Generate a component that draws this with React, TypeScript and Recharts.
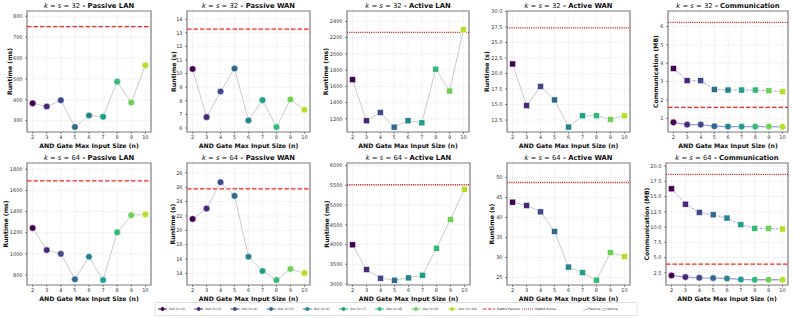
import React from "react";
import {
  LineChart,
  Line,
  XAxis,
  YAxis,
  CartesianGrid,
  ReferenceLine,
  ReferenceArea,
} from "recharts";

const gateSizes = [2, 3, 4, 5, 6, 7, 8, 9, 10];
const sizeColors = [
  "#440154",
  "#482878",
  "#3e4989",
  "#31688e",
  "#26828e",
  "#1f9e89",
  "#35b779",
  "#6ece58",
  "#b5de2b",
];

// k = s = 32
const passiveLan32 = [383, 368, 398, 270, 325, 319, 487, 387, 565];
const passiveWan32 = [10.34, 6.8, 8.68, 10.37, 6.56, 8.05, 6.07, 8.1, 7.34];
const activeLan32 = [1682, 1176, 1278, 1098, 1176, 1151, 1812, 1543, 2298];
const activeWan32 = [21.54, 14.84, 17.93, 15.75, 11.38, 13.19, 13.19, 12.6, 13.19];
const commPassive32 = [0.78, 0.66, 0.66, 0.57, 0.55, 0.55, 0.55, 0.55, 0.54];
const commActive32 = [3.71, 3.05, 3.05, 2.57, 2.54, 2.54, 2.54, 2.5, 2.45];
const rabbitPassiveLan32 = 750;
const rabbitPassiveWan32 = 13.27;
const rabbitActiveLan32 = 2265;
const rabbitActiveWan32 = 27.34;
const rabbitCommPassive32 = 1.6;
const rabbitCommActive32 = 6.22;

// k = s = 64
const passiveLan64 = [1244, 1035, 1000, 759, 972, 752, 1203, 1365, 1372];
const passiveWan64 = [21.58, 23.02, 26.7, 24.79, 16.33, 14.33, 13.07, 14.6, 14.05];
const activeLan64 = [3992, 3365, 3145, 3094, 3153, 3221, 3904, 4635, 5402];
const activeWan64 = [43.83, 43.0, 41.4, 36.5, 27.6, 26.2, 24.33, 31.2, 30.25];
const commPassive64 = [2.06, 1.79, 1.68, 1.63, 1.57, 1.41, 1.36, 1.36, 1.36];
const commActive64 = [16.26, 13.74, 12.39, 12.0, 11.47, 10.38, 9.78, 9.78, 9.67];
const rabbitPassiveLan64 = 1690;
const rabbitPassiveWan64 = 25.77;
const rabbitActiveLan64 = 5517;
const rabbitActiveWan64 = 48.75;
const rabbitCommPassive64 = 3.92;
const rabbitCommActive64 = 18.63;

// y tick labels
const ticksPassiveLan32 = [300, 400, 500, 600, 700, 800];
const ticksPassiveWan32 = [6, 7, 8, 9, 10, 11, 12, 13, 14];
const ticksActiveLan32 = [1200, 1400, 1600, 1800, 2000, 2200, 2400];
const ticksActiveWan32 = [12.5, 15, 17.5, 20, 22.5, 25, 27.5, 30];
const ticksComm32 = [1, 2, 3, 4, 5, 6];
const ticksPassiveLan64 = [800, 1000, 1200, 1400, 1600, 1800];
const ticksPassiveWan64 = [14, 16, 18, 20, 22, 24, 26, 28];
const ticksActiveLan64 = [3000, 3500, 4000, 4500, 5000, 5500, 6000];
const ticksActiveWan64 = [25, 30, 35, 40, 45, 50];
const ticksComm64 = [2.5, 5, 7.5, 10, 12.5, 15, 17.5, 20];

const FONT = "DejaVu Sans";
const Y_W = 28;
const X_H = 12;
const M_TOP = 3;
const M_RIGHT = 3;

type Panel = {
  k: number;
  name: string;
  yLabel: string;
  passive?: number[];
  active?: number[];
  rabbitPassive?: number;
  rabbitActive?: number;
  ticks: number[];
  digits: number;
};

const panels: Panel[] = [
  { k: 32, name: "Passive LAN", yLabel: "Runtime (ms)", passive: passiveLan32, rabbitPassive: rabbitPassiveLan32, ticks: ticksPassiveLan32, digits: 0 },
  { k: 32, name: "Passive WAN", yLabel: "Runtime (s)", passive: passiveWan32, rabbitPassive: rabbitPassiveWan32, ticks: ticksPassiveWan32, digits: 0 },
  { k: 32, name: "Active LAN", yLabel: "Runtime (ms)", active: activeLan32, rabbitActive: rabbitActiveLan32, ticks: ticksActiveLan32, digits: 0 },
  { k: 32, name: "Active WAN", yLabel: "Runtime (s)", active: activeWan32, rabbitActive: rabbitActiveWan32, ticks: ticksActiveWan32, digits: 1 },
  { k: 32, name: "Communication", yLabel: "Communication (MB)", passive: commPassive32, active: commActive32, rabbitPassive: rabbitCommPassive32, rabbitActive: rabbitCommActive32, ticks: ticksComm32, digits: 0 },
  { k: 64, name: "Passive LAN", yLabel: "Runtime (ms)", passive: passiveLan64, rabbitPassive: rabbitPassiveLan64, ticks: ticksPassiveLan64, digits: 0 },
  { k: 64, name: "Passive WAN", yLabel: "Runtime (s)", passive: passiveWan64, rabbitPassive: rabbitPassiveWan64, ticks: ticksPassiveWan64, digits: 0 },
  { k: 64, name: "Active LAN", yLabel: "Runtime (ms)", active: activeLan64, rabbitActive: rabbitActiveLan64, ticks: ticksActiveLan64, digits: 0 },
  { k: 64, name: "Active WAN", yLabel: "Runtime (s)", active: activeWan64, rabbitActive: rabbitActiveWan64, ticks: ticksActiveWan64, digits: 0 },
  { k: 64, name: "Communication", yLabel: "Communication (MB)", passive: commPassive64, active: commActive64, rabbitPassive: rabbitCommPassive64, rabbitActive: rabbitCommActive64, ticks: ticksComm64, digits: 1 },
];

// plot-area boxes (layout only)
type Box = { x: number; y: number; w: number; h: number; labelX: number };
const boxes: Box[] = [
  { x: 27, y: 11, w: 124, h: 121, labelX: 9.7 },
  { x: 187, y: 11, w: 123, h: 121, labelX: 173.3 },
  { x: 347, y: 11, w: 122, h: 121, labelX: 325.7 },
  { x: 507, y: 11, w: 123, h: 121, labelX: 486.3 },
  { x: 668, y: 11, w: 120, h: 121, labelX: 655 },
  { x: 27, y: 163, w: 124, h: 122, labelX: 5.7 },
  { x: 187, y: 163, w: 123, h: 122, labelX: 172.3 },
  { x: 347, y: 163, w: 123, h: 122, labelX: 326 },
  { x: 507, y: 163, w: 123, h: 122, labelX: 491.3 },
  { x: 666, y: 163, w: 122, h: 122, labelX: 646.7 },
];

const circleDot = (props: any) => {
  const { cx, cy, index } = props;
  if (cx == null || cy == null) return <g key={`ce${index}`} />;
  return (
    <circle key={`c${index}`} cx={cx} cy={cy} r={3.3} fill={sizeColors[index]} stroke="#ffffff" strokeWidth={0.5} />
  );
};

const squareDot = (props: any) => {
  const { cx, cy, index } = props;
  if (cx == null || cy == null) return <g key={`se${index}`} />;
  return (
    <rect key={`s${index}`} x={cx - 3} y={cy - 3} width={6} height={6} fill={sizeColors[index]} stroke="#ffffff" strokeWidth={0.5} />
  );
};

const tickStyle = { fontSize: 5, fill: "#333", fontFamily: FONT };

function PanelChart({ p, box }: { p: Panel; box: Box }) {
  const all = [...(p.passive ?? []), ...(p.active ?? [])];
  const refs = [p.rabbitPassive, p.rabbitActive].filter((v): v is number => v != null);
  const vMax = Math.max(...all, ...refs);
  const vMin = Math.min(...all, ...refs);
  const lo = vMin - 0.05 * (vMax - vMin);
  const hi = vMax * 1.1;
  const rows = gateSizes.map((n, i) => ({
    n,
    passive: p.passive ? p.passive[i] : null,
    active: p.active ? p.active[i] : null,
  }));
  const comm = !!(p.passive && p.active);

  return (
    <div style={{ position: "absolute", left: box.x - Y_W, top: box.y - M_TOP }}>
      <LineChart
        width={box.w + Y_W + M_RIGHT}
        height={box.h + M_TOP + X_H}
        data={rows}
        margin={{ top: M_TOP, right: M_RIGHT, left: 0, bottom: 0 }}
      >
        <CartesianGrid stroke="#d9d9d9" strokeWidth={0.6} strokeDasharray="1.2 1.2" />
        <XAxis
          dataKey="n"
          type="number"
          domain={[1.6, 10.4]}
          ticks={gateSizes}
          interval={0}
          allowDataOverflow
          axisLine={false}
          tickSize={2}
          tickMargin={1.5}
          tickLine={{ stroke: "#444", strokeWidth: 0.6 }}
          tick={tickStyle}
          height={X_H}
        />
        <YAxis
          type="number"
          domain={[lo, hi]}
          ticks={p.ticks}
          interval={0}
          allowDataOverflow
          width={Y_W}
          axisLine={false}
          tickSize={2}
          tickMargin={2.5}
          tickLine={{ stroke: "#444", strokeWidth: 0.6 }}
          tickFormatter={(v: number) => v.toFixed(p.digits)}
          tick={tickStyle}
        />
        {p.rabbitPassive != null && (
          <ReferenceLine y={p.rabbitPassive} stroke="#ff2020" strokeWidth={1.3} strokeDasharray="4.5 2" />
        )}
        {p.rabbitActive != null && (
          <ReferenceLine y={p.rabbitActive} stroke="#cc2222" strokeWidth={1.3} strokeDasharray="1.1 1.1" />
        )}
        {p.passive && (
          <Line
            dataKey="passive"
            stroke={comm ? "#4646dc" : "#c4c4c4"}
            strokeOpacity={comm ? 0.55 : 1}
            strokeWidth={comm ? 1.3 : 0.9}
            dot={circleDot}
            activeDot={false}
            isAnimationActive={false}
          />
        )}
        {p.active && (
          <Line
            dataKey="active"
            stroke={comm ? "#4646dc" : "#c4c4c4"}
            strokeOpacity={comm ? 0.55 : 1}
            strokeWidth={comm ? 1 : 0.9}
            strokeDasharray={comm ? "2.5 1.5" : undefined}
            dot={squareDot}
            activeDot={false}
            isAnimationActive={false}
          />
        )}
        <ReferenceArea
          x1={1.6}
          x2={10.4}
          y1={lo}
          y2={hi}
          fill="none"
          stroke="#808080"
          strokeWidth={1.2}
          ifOverflow="visible"
        />
      </LineChart>
    </div>
  );
}

function Labels() {
  return (
    <g fontFamily={FONT} fill="#111">
      {panels.map((p, i) => {
        const b = boxes[i];
        const cx = b.x + b.w / 2;
        return (
          <g key={i}>
            <text x={cx} y={b.y - 3.4} textAnchor="middle" fontSize={6.8}>
              <tspan fontStyle="italic">k</tspan>
              <tspan> = </tspan>
              <tspan fontStyle="italic">s</tspan>
              <tspan>{` = ${p.k}`}</tspan>
              <tspan fontWeight="bold">{" - " + p.name}</tspan>
            </text>
            <text x={cx} y={b.y + b.h + 16} textAnchor="middle" fontSize={6.2} fontWeight="bold">
              AND Gate Max Input Size (n)
            </text>
            <text
              x={b.labelX}
              y={b.y + b.h / 2}
              textAnchor="middle"
              dominantBaseline="central"
              fontSize={6.2}
              fontWeight="bold"
              transform={`rotate(-90, ${b.labelX}, ${b.y + b.h / 2})`}
            >
              {p.yLabel}
            </text>
          </g>
        );
      })}
    </g>
  );
}

function LegendBar() {
  const cy = 309;
  const fs = 3.2;
  return (
    <g fontFamily={FONT}>
      <rect x={155} y={302.5} width={482} height={13} rx={1.5} fill="#fff" stroke="#cccccc" strokeWidth={0.6} />
      {gateSizes.map((n, i) => {
        const x0 = 158 + 36.2 * i;
        return (
          <g key={n}>
            <line x1={x0} x2={x0 + 9} y1={cy} y2={cy} stroke={sizeColors[i]} strokeWidth={1} />
            <circle cx={x0 + 4.5} cy={cy} r={1.9} fill={sizeColors[i]} />
            <text x={x0 + 11} y={cy} dominantBaseline="central" fontSize={fs} fill="#222">
              {`Our (n=${n})`}
            </text>
          </g>
        );
      })}
      <line x1={483} x2={495} y1={cy} y2={cy} stroke="#ff2020" strokeWidth={1.1} strokeDasharray="3.5 1.5" />
      <text x={497} y={cy} dominantBaseline="central" fontSize={fs} fill="#222">
        Rabbit Passive
      </text>
      <line x1={522} x2={533} y1={cy} y2={cy} stroke="#cc2222" strokeWidth={1.1} strokeDasharray="1 1" />
      <text x={535} y={cy} dominantBaseline="central" fontSize={fs} fill="#222">
        Rabbit Active
      </text>
      <text x={583} y={cy} dominantBaseline="central" fontSize={fs} fill="#222">
        ○=Passive, □=Active
      </text>
    </g>
  );
}

export default function App() {
  return (
    <div
      style={{
        position: "absolute",
        left: 0,
        top: 0,
        width: 793,
        height: 318,
        background: "#fff",
        overflow: "hidden",
      }}
    >
      {panels.map((p, i) => (
        <PanelChart key={i} p={p} box={boxes[i]} />
      ))}
      <svg
        width={793}
        height={318}
        style={{ position: "absolute", left: 0, top: 0, pointerEvents: "none" }}
      >
        <Labels />
        <LegendBar />
      </svg>
    </div>
  );
}
